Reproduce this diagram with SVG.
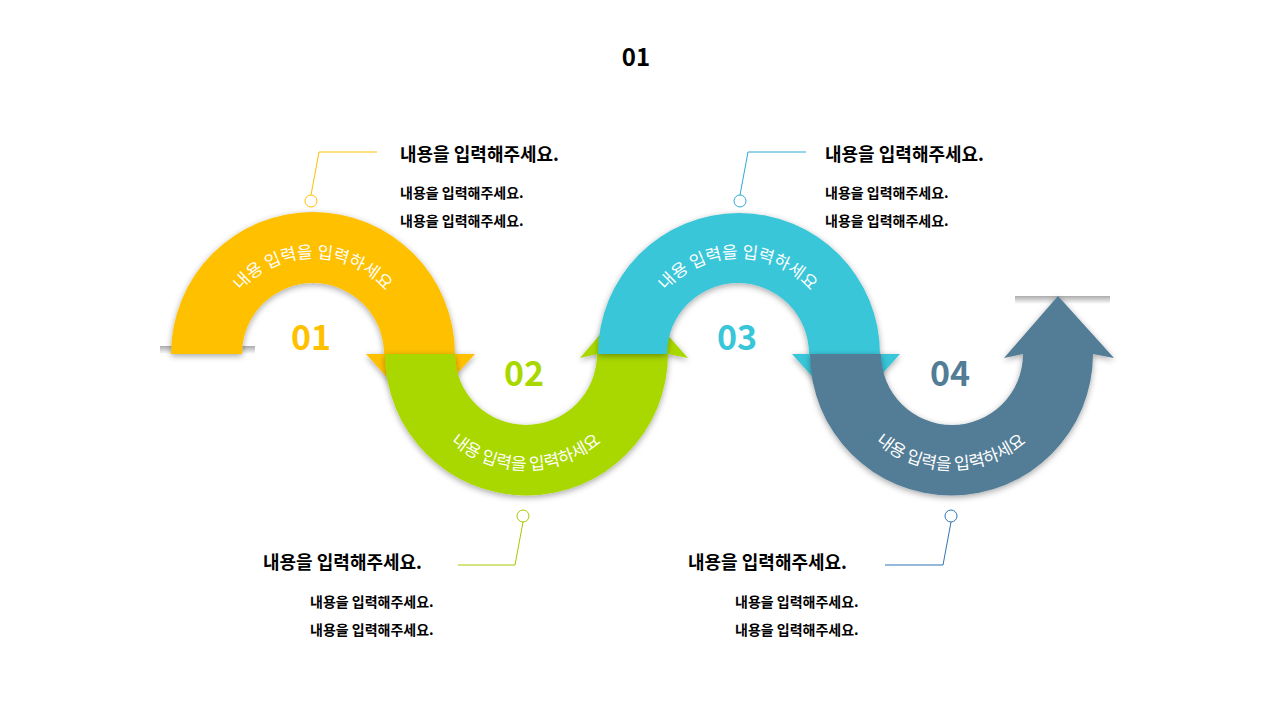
<svg xmlns="http://www.w3.org/2000/svg" xmlns:xlink="http://www.w3.org/1999/xlink" width="1273" height="712" viewBox="0 0 1273 712">
<style>
text{font-family:"Noto Sans CJK KR","Noto Sans",sans-serif;}
.t{font-size:18px;font-weight:bold;fill:#000}
.s{font-size:14px;font-weight:bold;fill:#000}
.num{font-size:34px;font-weight:bold;text-anchor:middle}
.arc{font-size:17px;fill:#fff}
.ln{fill:none;stroke-width:1}
</style>
<defs>
<linearGradient id="sh" x1="0" y1="0" x2="0" y2="1"><stop offset="0" stop-color="#000" stop-opacity="0.55"/><stop offset="1" stop-color="#000" stop-opacity="0"/></linearGradient>
<filter id="ds" x="-20%" y="-20%" width="140%" height="140%"><feDropShadow dx="0" dy="2" stdDeviation="3" flood-opacity="0.35"/></filter>
<path id="p1" d="M217,354 A96,96 0 0 1 409,354"/>
<path id="p2" d="M410,354 A116,116 0 0 0 642,354"/>
<path id="p3" d="M642,354 A96,96 0 0 1 834,354"/>
<path id="p4" d="M835,354 A116,116 0 0 0 1067,354"/>
</defs>
<text x="636" y="66" style="font-size:24px;font-weight:bold;text-anchor:middle">01</text>
<rect x="160" y="348" width="95" height="8" fill="url(#sh)" opacity="0.6" transform="translate(0,-2)"/>
<rect x="1015" y="296" width="95" height="8" fill="url(#sh)" opacity="0.6"/>
<g id="node1" filter="url(#ds)">
<path d="M171,354 A142,142 0 0 1 455,354 L475,354 L420,414 L366,354 L384,354 A71,71 0 0 0 242,354 Z" fill="#FFC000"/>
</g>
<g id="node2" filter="url(#ds)">
<path d="M385,354 A141,141 0 0 0 668,354 L688,358 L633,296 L580,358 L597,354 A71,71 0 0 1 455,354 Z" fill="#A9D800"/>
</g>
<g id="node3" filter="url(#ds)">
<path d="M598,354 A141,141 0 0 1 880,354 L900,354 L846,414 L792,354 L809,354 A71,71 0 0 0 667,354 Z" fill="#38C6D8"/>
</g>
<g id="node4" filter="url(#ds)">
<path d="M810,354 A141,141 0 0 0 1093,354 L1114,358 L1058,296 L1004,358 L1023,354 A71,71 0 0 1 881,354 Z" fill="#527D96"/>
</g>
<g id="arcText">
<text class="arc"><textPath xlink:href="#p1" href="#p1" startOffset="50%" text-anchor="middle">내용 입력을 입력하세요</textPath></text>
<text class="arc"><textPath xlink:href="#p2" href="#p2" startOffset="50%" text-anchor="middle">내용 입력을 입력하세요</textPath></text>
<text class="arc"><textPath xlink:href="#p3" href="#p3" startOffset="50%" text-anchor="middle">내용 입력을 입력하세요</textPath></text>
<text class="arc"><textPath xlink:href="#p4" href="#p4" startOffset="50%" text-anchor="middle">내용 입력을 입력하세요</textPath></text>
</g>
<text class="num" x="311" y="350" fill="#FFC000">01</text>
<text class="num" x="524" y="386" fill="#A9D800">02</text>
<text class="num" x="737" y="350" fill="#38C6D8">03</text>
<text class="num" x="950" y="386" fill="#527D96">04</text>
<g id="connectors">
<polyline class="ln" stroke="#FFC000" points="311,195 319,152 377,152"/>
<circle cx="311" cy="201" r="6" fill="#fff" stroke="#FFC000"/>
<polyline class="ln" stroke="#A9C800" points="523,522 515,565 458,565"/>
<circle cx="523" cy="516" r="6" fill="#fff" stroke="#A9C800"/>
<polyline class="ln" stroke="#2FA9D8" points="740,195 748,152 806,152"/>
<circle cx="740" cy="201" r="6" fill="#fff" stroke="#2FA9D8"/>
<polyline class="ln" stroke="#2E75B6" points="951,522 943,565 885,565"/>
<circle cx="951" cy="516" r="6" fill="#fff" stroke="#2E75B6"/>
</g>
<g id="label1"><text class="t" x="400" y="161">내용을 입력해주세요.</text><text class="s" x="400" y="198">내용을 입력해주세요.</text><text class="s" x="400" y="226">내용을 입력해주세요.</text></g>
<g id="label2"><text class="t" x="263" y="569">내용을 입력해주세요.</text><text class="s" x="310" y="607">내용을 입력해주세요.</text><text class="s" x="310" y="635">내용을 입력해주세요.</text></g>
<g id="label3"><text class="t" x="825" y="161">내용을 입력해주세요.</text><text class="s" x="825" y="198">내용을 입력해주세요.</text><text class="s" x="825" y="226">내용을 입력해주세요.</text></g>
<g id="label4"><text class="t" x="688" y="569">내용을 입력해주세요.</text><text class="s" x="735" y="607">내용을 입력해주세요.</text><text class="s" x="735" y="635">내용을 입력해주세요.</text></g>
</svg>
